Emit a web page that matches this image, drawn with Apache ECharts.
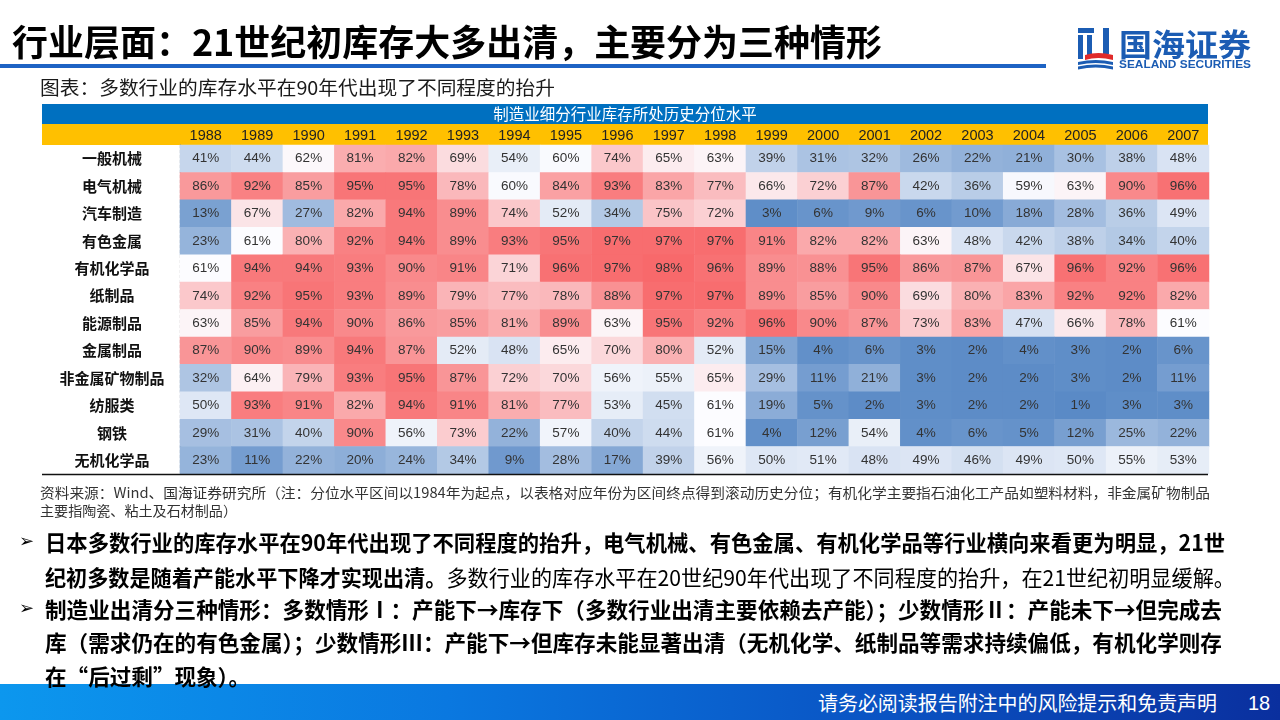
<!DOCTYPE html>
<html>
<head>
<meta charset="utf-8">
<script src="https://cdn.jsdelivr.net/npm/echarts@6/dist/echarts.min.js"></script>
<style>
  html, body { margin:0; padding:0; width:1280px; height:720px; overflow:hidden; background:#fff; }
  body { position:relative; font-family:"Noto Sans CJK SC","Noto Sans",sans-serif; }
  #chart { position:absolute; left:0; top:0; width:1280px; height:720px; z-index:0; }
  .t { position:absolute; white-space:nowrap; z-index:2; transform-origin:0 50%; }
  #title { left:12px; top:20px; font-size:36px; line-height:40px; font-weight:bold; color:#000; }
  #rule { position:absolute; left:0; top:64px; width:1046px; height:4px; background:#1D63C4; z-index:2; }
  #sub { left:40px; top:75px; font-size:19px; line-height:24px; color:#1a1a1a; }
  .src { left:40px; font-size:14px; line-height:18px; color:#333; }
  .b { left:45px; font-size:22px; line-height:28px; font-weight:bold; color:#000; }
  .arrow { left:19px; font-size:18px; line-height:28px; color:#000; font-family:"DejaVu Sans",sans-serif; }
  .n { font-weight:normal; }
  #footer { position:absolute; left:0; top:684px; width:1280px; height:36px; z-index:1;
            background:linear-gradient(90deg,#0C97EE 0%,#0A78E0 35%,#0A52C2 70%,#0A2F9E 100%); }
  #ftext { left:818px; top:692px; font-size:20px; line-height:22px; color:#fff; }
  #fnum { left:1248px; top:692px; font-size:20px; line-height:22px; color:#fff; font-family:"Liberation Sans",sans-serif; }
  #logo { position:absolute; left:1076px; top:26px; z-index:2; }
  #logotext { left:1119px; top:25px; font-size:31px; line-height:36px; font-weight:bold; color:#1B5CB3; }
  #logoen { left:1119px; top:58px; font-size:11px; line-height:12px; font-weight:bold; color:#1B5CB3; font-family:"Liberation Sans",sans-serif; }
</style>
</head>
<body>
<div id="chart"></div>

<div class="t" id="title" data-x2="882">行业层面：21世纪初库存大多出清，主要分为三种情形</div>
<div id="rule"></div>
<svg id="logo" width="40" height="44" viewBox="0 0 40 44">
  <rect x="2" y="2" width="16" height="5" fill="#1B5CB3"/>
  <rect x="2" y="9" width="5" height="24" fill="#1B5CB3"/>
  <rect x="11" y="9" width="5" height="20" fill="#1B5CB3"/>
  <rect x="27" y="2" width="6" height="26" fill="#1B5CB3"/>
  <path d="M9 29 Q22 25 37 29 L37 34 Q22 30 9 34 Z" fill="#E02A2A"/>
  <path d="M2 36 Q20 32 37 36 L37 39 Q20 35 2 39 Z" fill="#1B5CB3"/>
  <path d="M2 40.5 Q20 36.5 37 40.5 L37 43.5 Q20 39.5 2 43.5 Z" fill="#1B5CB3"/>
</svg>
<div class="t" id="logotext" data-x2="1251">国海证券</div>
<div class="t" id="logoen" data-x2="1251">SEALAND SECURITIES</div>

<div class="t" id="sub" data-x2="555">图表：多数行业的库存水平在90年代出现了不同程度的抬升</div>

<div class="t src" style="top:483px;" data-x2="1210">资料来源：Wind、国海证券研究所（注：分位水平区间以1984年为起点，以表格对应年份为区间终点得到滚动历史分位；有机化学主要指石油化工产品如塑料材料，非金属矿物制品</div>
<div class="t src" style="top:501px;" data-x2="237">主要指陶瓷、粘土及石材制品）</div>

<div class="t arrow" style="top:527px;">➢</div>
<div class="t b" style="top:527px;" data-x2="1225">日本多数行业的库存水平在90年代出现了不同程度的抬升，电气机械、有色金属、有机化学品等行业横向来看更为明显，21世</div>
<div class="t b" style="top:562px;" data-x2="1235">纪初多数是随着产能水平下降才实现出清。<span class="n">多数行业的库存水平在20世纪90年代出现了不同程度的抬升，在21世纪初明显缓解。</span></div>
<div class="t arrow" style="top:594px;">➢</div>
<div class="t b" style="top:594px;" data-x2="1222">制造业出清分三种情形：多数情形Ⅰ：产能下→库存下（多数行业出清主要依赖去产能）；少数情形Ⅱ：产能未下→但完成去</div>
<div class="t b" style="top:627px;" data-x2="1222">库（需求仍在的有色金属）；少数情形Ⅲ：产能下→但库存未能显著出清（无机化学、纸制品等需求持续偏低，有机化学则存</div>
<div class="t b" style="top:661px;" data-x2="250">在“后过剩”现象）。</div>

<div id="footer"></div>
<div class="t" id="ftext" data-x2="1217">请务必阅读报告附注中的风险提示和免责声明</div>
<div class="t" id="fnum">18</div>

<script>
// ---- data ----
const tableTitle = '制造业细分行业库存所处历史分位水平';
const years = ['1988','1989','1990','1991','1992','1993','1994','1995','1996','1997',
               '1998','1999','2000','2001','2002','2003','2004','2005','2006','2007'];
const industries = ['一般机械','电气机械','汽车制造','有色金属','有机化学品','纸制品',
                    '能源制品','金属制品','非金属矿物制品','纺服类','钢铁','无机化学品'];
const generalMachinery   = [41,44,62,81,82,69,54,60,74,65,63,39,31,32,26,22,21,30,38,48];
const electricMachinery  = [86,92,85,95,95,78,60,84,93,83,77,66,72,87,42,36,59,63,90,96];
const autoManufacturing  = [13,67,27,82,94,89,74,52,34,75,72,3,6,9,6,10,18,28,36,49];
const nonferrousMetals   = [23,61,80,92,94,89,93,95,97,97,97,91,82,82,63,48,42,38,34,40];
const organicChemicals   = [61,94,94,93,90,91,71,96,97,98,96,89,88,95,86,87,67,96,92,96];
const paperProducts      = [74,92,95,93,89,79,77,78,88,97,97,89,85,90,69,80,83,92,92,82];
const energyProducts     = [63,85,94,90,86,85,81,89,63,95,92,96,90,87,73,83,47,66,78,61];
const metalProducts      = [87,90,89,94,87,52,48,65,70,80,52,15,4,6,3,2,4,3,2,6];
const nonmetalMinerals   = [32,64,79,93,95,87,72,70,56,55,65,29,11,21,3,2,2,3,2,11];
const textiles           = [50,93,91,82,94,91,81,77,53,45,61,19,5,2,3,2,2,1,3,3];
const steel              = [29,31,40,90,56,73,22,57,40,44,61,4,12,54,4,6,5,12,25,22];
const inorganicChemicals = [23,11,22,20,24,34,9,28,17,39,56,50,51,48,49,46,49,50,55,53];

const rows = [generalMachinery, electricMachinery, autoManufacturing, nonferrousMetals,
              organicChemicals, paperProducts, energyProducts, metalProducts,
              nonmetalMinerals, textiles, steel, inorganicChemicals];

// fit text lines to the reference line widths
document.querySelectorAll('[data-x2]').forEach(el => {
  const left = parseFloat(getComputedStyle(el).left);
  const target = parseFloat(el.dataset.x2) - left;
  const w = el.getBoundingClientRect().width;
  if (w > 0) el.style.transform = 'scaleX(' + (target / w).toFixed(4) + ')';
});

const heatData = [];
rows.forEach((r, yi) => r.forEach((v, xi) => heatData.push([xi, yi, v])));

// three-colour scale (blue - white - red) with midpoint near the median
const vMin = 1, vMax = 98, vMid = 61;
const cBlue = [90,138,198], cWhite = [252,252,255], cRed = [248,105,107];
function lerp(a, b, t) { return a.map((x, i) => Math.round(x + (b[i] - x) * t)); }
const scaleColors = [];
for (let v = vMin; v <= vMax; v++) {
  const c = v <= vMid ? lerp(cBlue, cWhite, (v - vMin) / (vMid - vMin))
                      : lerp(cWhite, cRed, (v - vMid) / (vMax - vMid));
  scaleColors.push('rgb(' + c.join(',') + ')');
}

const chart = echarts.init(document.getElementById('chart'), null, {renderer: 'canvas'});
const L = 42, R = 1208, gridL = 180, gridT = 145, gridB = 474;
chart.setOption({
  animation: false,
  grid: { left: gridL, top: gridT, width: 1209 - gridL, height: gridB - gridT },
  xAxis: {
    type: 'category', data: years, position: 'top',
    axisLine: { show: false }, axisTick: { show: false }, splitLine: { show: false },
    axisLabel: { color: '#222', fontSize: 14.5, margin: 2, fontFamily: 'Liberation Sans' }
  },
  yAxis: {
    type: 'category', data: industries, inverse: true,
    axisLine: { show: true, lineStyle: { color: '#666', type: [3, 2], width: 1.2 } },
    axisTick: { show: false }, splitLine: { show: false },
    axisLabel: { color: '#111', fontSize: 15, fontWeight: 'bold', align: 'center', margin: 68,
                 fontFamily: 'Noto Sans CJK SC' }
  },
  visualMap: {
    show: false, type: 'continuous', min: vMin, max: vMax, dimension: 2,
    inRange: { color: scaleColors }
  },
  series: [{
    type: 'heatmap', data: heatData,
    label: { show: true, formatter: p => p.value[2] + '%', color: '#333', fontSize: 13.5,
             fontFamily: 'Liberation Sans' },
    itemStyle: { borderWidth: 0 },
    emphasis: { disabled: true }
  }],
  graphic: [
    { type: 'rect', z: -100, shape: { x: L, y: 104, width: R - L, height: 20 }, style: { fill: '#0070C0' } },
    { type: 'rect', z: -100, shape: { x: L, y: 124, width: R - L, height: 21 }, style: { fill: '#FFC000' } },
    { type: 'text', z: 10, style: { text: tableTitle, x: (L + R) / 2, y: 114, align: 'center', verticalAlign: 'middle',
      fill: '#fff', fontSize: 15.5, fontFamily: 'Noto Sans CJK SC' } },
    { type: 'line', z: 10, shape: { x1: L, y1: gridB + 0.5, x2: R, y2: gridB + 0.5 }, style: { stroke: '#111', lineWidth: 1.5 } }
  ]
});
</script>
</body>
</html>
